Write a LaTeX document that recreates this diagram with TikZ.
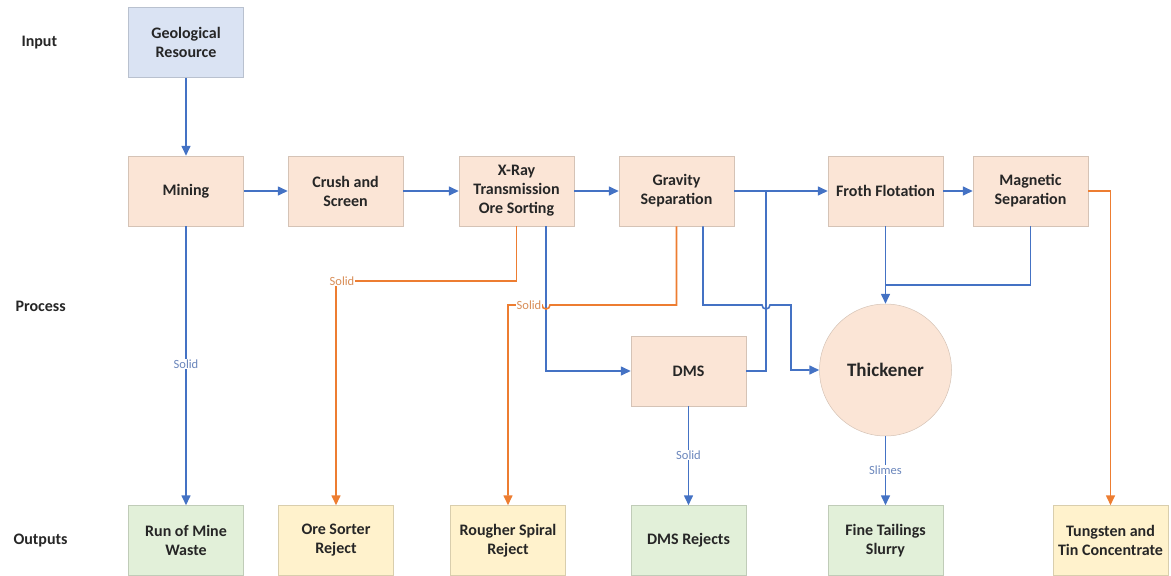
\documentclass[tikz,border=0pt]{standalone}
\usepackage{fontspec}
\setmainfont{Carlito}
\usetikzlibrary{arrows.meta}
\definecolor{lblue}{HTML}{4472C4}
\definecolor{lorange}{HTML}{ED7D31}
\definecolor{fpeach}{HTML}{FBE5D6}
\definecolor{fgreen}{HTML}{E2F0D9}
\definecolor{fyellow}{HTML}{FFF2CC}
\definecolor{fblue}{HTML}{DAE3F3}
\definecolor{tblue}{HTML}{6A86BC}
\definecolor{torange}{HTML}{D98E58}
\tikzset{
  box/.style={rectangle, minimum width=115pt, minimum height=70pt, inner sep=2pt, align=center,
    font=\fontsize{16}{19}\selectfont\bfseries, text=black!85},
  procbox/.style={box, fill=fpeach, draw=fpeach!85!black, line width=0.5pt},
  greenbox/.style={box, fill=fgreen, draw=fgreen!85!black, line width=0.5pt},
  yellowbox/.style={box, fill=fyellow, draw=fyellow!85!black, line width=0.5pt},
  bluebox/.style={box, fill=fblue, draw=fblue!85!black, line width=0.5pt},
  rowlabel/.style={anchor=west, font=\fontsize{16}{19}\selectfont\bfseries, text=black!85},
  bl/.style={draw=lblue, line width=1.6pt},
  orl/.style={draw=lorange, line width=1.6pt},
  arr/.style={-{Triangle[length=10pt,width=9pt]}},
  flowlabel/.style={fill=white, inner sep=1pt, font=\fontsize{12.5}{14}\selectfont},
}
\begin{document}
\begin{tikzpicture}[x=1pt,y=-1pt]
\useasboundingbox (0,0) rectangle (1171,576);
% row labels
\node[rowlabel] (lin) at (18,43) {Input};
\node[rowlabel] (lpr) at (12,306) {Process};
\node[rowlabel] (lout) at (10,541) {Outputs};
% boxes
\node[bluebox] (geo) at (186,42.5) {Geological\\Resource};
\node[procbox] (mining) at (186,191) {Mining};
\node[procbox] (crush) at (345.5,191) {Crush and\\Screen};
\node[procbox] (xray) at (516.5,191) {X-Ray\\Transmission\\Ore Sorting};
\node[procbox] (gravity) at (676.5,191) {Gravity\\Separation};
\node[procbox] (froth) at (885.5,191) {Froth Flotation};
\node[procbox] (magnetic) at (1030.5,191) {Magnetic\\Separation};
\node[procbox] (dms) at (688.5,371) {DMS};
\node[circle, minimum size=132pt, inner sep=0pt, fill=fpeach, draw=fpeach!85!black, line width=0.5pt,
  font=\fontsize{19}{22}\selectfont\bfseries, text=black!85] (thick) at (885.5,370) {Thickener};
\node[greenbox] (runmine) at (186,540.5) {Run of Mine\\Waste};
\node[yellowbox] (ore) at (336,540.5) {Ore Sorter\\Reject};
\node[yellowbox] (rougher) at (508,540.5) {Rougher Spiral\\Reject};
\node[greenbox] (dmsrej) at (688.5,540.5) {DMS Rejects};
\node[greenbox] (fine) at (885.5,540.5) {Fine Tailings\\Slurry};
\node[yellowbox] (tung) at (1110.5,540.5) {Tungsten and\\Tin Concentrate};
% coordinates
\coordinate (j1) at (766,191);
\coordinate (c1) at (336,281);
\coordinate (c2) at (508,305);
\coordinate (c3) at (885.5,285);
% main line
\draw[bl,arr] (geo) -- (mining);
\draw[bl,arr] (mining) -- (crush);
\draw[bl,arr] (crush) -- (xray);
\draw[bl,arr] (xray) -- (gravity);
\draw[bl,arr] (gravity) -- (froth);
\draw[bl,arr] (froth) -- (magnetic);
\draw[bl] (dms.east) -| (j1);
\draw[orl,arr] (magnetic.east) -| (tung.north);
% mining waste
\draw[bl,arr] (mining) -- (runmine);
% xray orange
\draw[orl,arr] (xray.south) |- (c1) -- (ore.north);
% xray blue to DMS
\draw[bl,arr] ([xshift=29.5pt]xray.south) |- (dms.west);
% gravity orange with hop
\draw[orl,arr] (gravity.south) |- (550,305) arc[start angle=0,end angle=180,radius=4] -- (c2) -- (rougher.north);
% gravity blue with hop to thickener
\draw[bl,arr] ([xshift=26.5pt]gravity.south) |- (762,305) arc[start angle=180,end angle=0,radius=4] -- (791,305) |- (thick.west);
% froth and magnetic to thickener
\draw[bl,arr] (froth.south) -- (thick.north);
\draw[bl] (magnetic.south) |- (c3);
% dms and thickener outputs
\draw[bl,arr] (dms) -- (dmsrej);
\draw[bl,arr] (thick) -- (fine);
% flow labels
\node[flowlabel, text=tblue] (s1) at (186,364) {Solid};
\node[flowlabel, text=torange] (s2) at (342,281) {Solid};
\node[flowlabel, text=torange] (s3) at (529,305) {Solid};
\node[flowlabel, text=tblue] (s4) at (688.5,455) {Solid};
\node[flowlabel, text=tblue] (s5) at (885.5,470) {Slimes};
\end{tikzpicture}
\end{document}
